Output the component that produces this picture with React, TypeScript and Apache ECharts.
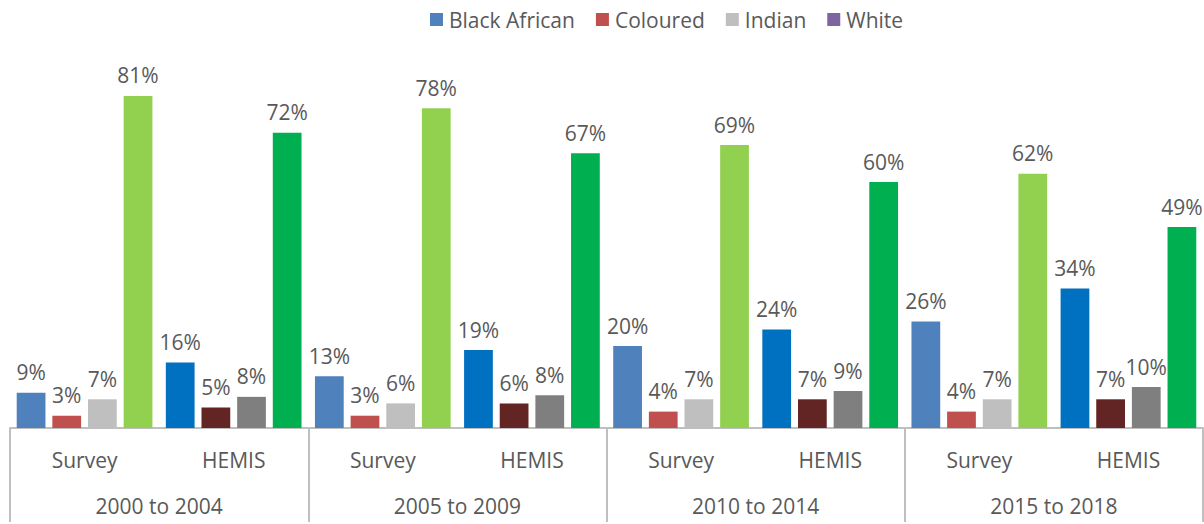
import React, { useEffect, useRef } from "react";
import * as echarts from "echarts";

const subCategories = ["Survey", "HEMIS", "Survey", "HEMIS", "Survey", "HEMIS", "Survey", "HEMIS"];
const periods = ["2000 to 2004", "2005 to 2009", "2010 to 2014", "2015 to 2018"];
const seriesNames = ["Black African", "Coloured", "Indian", "White"];

const blackAfrican = [8.6, 16, 12.6, 19, 20, 24, 26, 34];
const coloured = [3, 5, 3, 6, 4, 7, 4, 7];
const indian = [7, 7.6, 6, 8, 7, 9, 7, 10];
const white = [81, 72, 78, 67, 69, 60, 62, 49];

const legendColors = ["#4F81BD", "#C0504D", "#BFBFBF", "#8064A2"];
const surveyColors = ["#4F81BD", "#C0504D", "#BFBFBF", "#92D050"];
const hemisColors = ["#0070C0", "#632523", "#7F7F7F", "#00B050"];

const FONT = "'Open Sans', sans-serif";
const TEXT = "#595959";
const LINE = "#BFBFBF";

export default function App() {
  const ref = useRef<HTMLDivElement>(null);
  useEffect(() => {
    if (!ref.current) return;
    const chart = echarts.init(ref.current, undefined, { renderer: "svg" });
    const allValues = [blackAfrican, coloured, indian, white];
    const series = allValues.map((vals, si) => ({
      name: seriesNames[si],
      type: "bar",
      xAxisIndex: 0,
      barCategoryGap: "9%",
      barGap: "24%",
      itemStyle: { color: legendColors[si] },
      label: {
        show: true,
        position: "top",
        distance: 10,
        formatter: (p: any) => Math.round(p.value) + "%",
        fontFamily: FONT,
        fontSize: 21,
        color: TEXT,
      },
      data: vals.map((v, i) => ({
        value: v,
        itemStyle: { color: i % 2 === 0 ? surveyColors[si] : hemisColors[si] },
      })),
    }));
    chart.setOption({
      animation: false,
      legend: {
        data: seriesNames,
        left: 430,
        top: 9,
        padding: 0,
        icon: "rect",
        itemWidth: 13,
        itemHeight: 13,
        itemGap: 21,
        itemStyle: { borderWidth: 0 },
        textStyle: { fontFamily: FONT, fontSize: 21, color: TEXT, padding: [0, 0, 0, 1] },
      },
      grid: { left: 10, right: 1, top: 18, bottom: 96, containLabel: false },
      xAxis: [
        {
          type: "category",
          data: subCategories,
          position: "bottom",
          axisLine: { show: true, lineStyle: { color: LINE, width: 2 } },
          axisTick: { show: false },
          axisLabel: { fontFamily: FONT, fontSize: 21, color: TEXT, margin: 21, interval: 0 },
        },
        {
          type: "category",
          data: periods,
          position: "bottom",
          axisLine: { show: false },
          axisTick: { show: true, length: 94, inside: false, lineStyle: { color: LINE, width: 2 } },
          axisLabel: { fontFamily: FONT, fontSize: 21, color: TEXT, margin: 67, interval: 0 },
        },
      ],
      yAxis: { type: "value", min: 0, max: 100, show: false, splitLine: { show: false } },
      series,
    });
    return () => chart.dispose();
  }, []);
  return (
    <div
      ref={ref}
      style={{ position: "fixed", left: 0, top: 0, width: 1204, height: 524, background: "#fff" }}
    />
  );
}
